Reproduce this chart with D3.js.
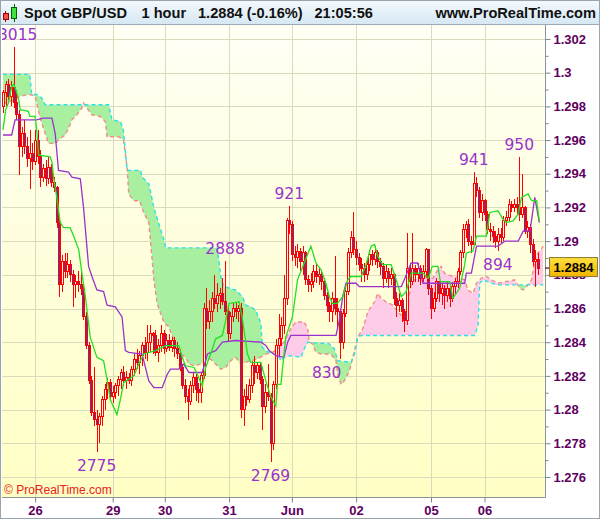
<!DOCTYPE html>
<html><head><meta charset="utf-8">
<script src="https://cdn.jsdelivr.net/npm/d3@7/dist/d3.min.js"></script>
<style>body{margin:0;background:#fff}svg{display:block}</style>
</head><body>
<svg id="c" width="600" height="519"></svg>
<script>
// ---------- DATA ----------
const open = [
1.2980,1.2988,1.2993,1.2986,1.2991,1.2982,1.2975,1.2956,1.2964,1.2956,
1.2949,1.2952,1.2947,1.2960,1.2950,1.2938,1.2943,1.2937,1.2944,1.2935,
1.2932,1.2911,1.2874,1.2888,1.2882,1.2886,1.2880,1.2874,1.2876,1.2874,
1.2872,1.2855,1.2838,1.2817,1.2798,1.2794,1.2791,1.2796,1.2806,1.2812,
1.2816,1.2808,1.2810,1.2814,1.2818,1.2822,1.2817,1.2819,1.2817,1.2824,
1.2830,1.2828,1.2832,1.2838,1.2834,1.2840,1.2845,1.2844,1.2834,1.2838,
1.2845,1.2836,1.2841,1.2837,1.2841,1.2836,1.2833,1.2825,1.2814,1.2808,
1.2805,1.2814,1.2819,1.2812,1.2810,1.2820,1.2860,1.2852,1.2858,1.2866,
1.2863,1.2868,1.2869,1.2864,1.2858,1.2845,1.2855,1.2860,1.2858,1.2860,
1.2800,1.2808,1.2806,1.2814,1.2826,1.2822,1.2826,1.2818,1.2802,1.2810,
1.2808,1.2780,1.2815,1.2838,1.2842,1.2850,1.2866,1.2912,1.2910,1.2892,
1.2890,1.2894,1.2888,1.2893,1.2877,1.2874,1.2876,1.2882,1.2879,1.2880,
1.2876,1.2868,1.2862,1.2858,1.2866,1.2860,1.2858,1.2840,1.2857,1.2870,
1.2893,1.2902,1.2895,1.2890,1.2886,1.2884,1.2880,1.2886,1.2892,1.2889,
1.2893,1.2888,1.2885,1.2878,1.2882,1.2878,1.2880,1.2866,1.2862,1.2865,
1.2858,1.2853,1.2884,1.2876,1.2884,1.2880,1.2884,1.2878,1.2882,1.2895,
1.2872,1.2860,1.2866,1.2876,1.2869,1.2872,1.2868,1.2872,1.2866,1.2873,
1.2876,1.2882,1.2893,1.2907,1.2910,1.2900,1.2898,1.2934,1.2930,1.2917,
1.2924,1.2916,1.2907,1.2906,1.2903,1.2900,1.2904,1.2902,1.2912,1.2914,
1.2922,1.2920,1.2922,1.2920,1.2916,1.2920,1.2906,1.2908,1.2898,1.2888,
1.2889];
const high = [
1.2990,1.2995,1.2996,1.2995,1.3015,1.2990,1.2978,1.2968,1.2972,1.2962,
1.2966,1.2958,1.2966,1.2966,1.2954,1.2946,1.2948,1.2950,1.2946,1.2938,
1.2933,1.2913,1.2892,1.2893,1.2893,1.2889,1.2883,1.2880,1.2882,1.2884,
1.2875,1.2858,1.2840,1.2820,1.2825,1.2800,1.2798,1.2808,1.2815,1.2819,
1.2818,1.2814,1.2816,1.2820,1.2824,1.2826,1.2823,1.2822,1.2826,1.2833,
1.2836,1.2835,1.2840,1.2843,1.2850,1.2850,1.2846,1.2847,1.2842,1.2850,
1.2847,1.2845,1.2845,1.2843,1.2843,1.2840,1.2836,1.2827,1.2818,1.2812,
1.2817,1.2822,1.2821,1.2816,1.2822,1.2863,1.2872,1.2865,1.2870,1.2880,
1.2875,1.2872,1.2878,1.2888,1.2862,1.2858,1.2863,1.2863,1.2862,1.2863,
1.2812,1.2815,1.2818,1.2829,1.2832,1.2828,1.2828,1.2820,1.2815,1.2827,
1.2810,1.2817,1.2842,1.2857,1.2855,1.2880,1.2914,1.2921,1.2912,1.2897,
1.2898,1.2896,1.2897,1.2894,1.2880,1.2881,1.2886,1.2887,1.2884,1.2882,
1.2878,1.2870,1.2864,1.2870,1.2891,1.2866,1.2860,1.2860,1.2874,1.2896,
1.2906,1.2917,1.2900,1.2893,1.2890,1.2887,1.2889,1.2895,1.2895,1.2897,
1.2895,1.2890,1.2887,1.2886,1.2884,1.2884,1.2881,1.2870,1.2869,1.2866,
1.2860,1.2905,1.2887,1.2905,1.2886,1.2887,1.2886,1.2886,1.2896,1.2895,
1.2874,1.2870,1.2878,1.2876,1.2875,1.2874,1.2876,1.2873,1.2876,1.2878,
1.2884,1.2895,1.2910,1.2912,1.2913,1.2903,1.2941,1.2938,1.2932,1.2928,
1.2925,1.2918,1.2911,1.2909,1.2906,1.2908,1.2908,1.2915,1.2918,1.2925,
1.2924,1.2925,1.2926,1.2950,1.2940,1.2921,1.2912,1.2910,1.2901,1.2895,
1.2893];
const low = [
1.2976,1.2980,1.2984,1.2980,1.2979,1.2972,1.2939,1.2950,1.2952,1.2944,
1.2931,1.2942,1.2945,1.2946,1.2932,1.2935,1.2933,1.2934,1.2932,1.2929,
1.2908,1.2867,1.2870,1.2878,1.2878,1.2876,1.2861,1.2866,1.2870,1.2868,
1.2853,1.2836,1.2815,1.2796,1.2790,1.2775,1.2780,1.2790,1.2800,1.2806,
1.2805,1.2804,1.2806,1.2808,1.2812,1.2814,1.2812,1.2815,1.2814,1.2820,
1.2824,1.2821,1.2826,1.2830,1.2829,1.2834,1.2833,1.2832,1.2828,1.2834,
1.2833,1.2834,1.2835,1.2834,1.2831,1.2830,1.2823,1.2812,1.2804,1.2794,
1.2803,1.2810,1.2805,1.2804,1.2804,1.2818,1.2848,1.2848,1.2852,1.2860,
1.2858,1.2860,1.2862,1.2856,1.2840,1.2842,1.2852,1.2854,1.2852,1.2795,
1.2790,1.2802,1.2804,1.2810,1.2815,1.2818,1.2815,1.2788,1.2798,1.2805,
1.2769,1.2776,1.2812,1.2832,1.2838,1.2845,1.2862,1.2904,1.2888,1.2885,
1.2884,1.2882,1.2880,1.2874,1.2870,1.2870,1.2872,1.2875,1.2874,1.2871,
1.2865,1.2858,1.2852,1.2852,1.2856,1.2848,1.2830,1.2836,1.2855,1.2868,
1.2890,1.2892,1.2886,1.2882,1.2876,1.2876,1.2877,1.2882,1.2885,1.2886,
1.2884,1.2880,1.2872,1.2875,1.2872,1.2874,1.2862,1.2855,1.2858,1.2852,
1.2846,1.2850,1.2872,1.2874,1.2876,1.2876,1.2874,1.2876,1.2878,1.2868,
1.2854,1.2858,1.2864,1.2864,1.2862,1.2860,1.2864,1.2861,1.2864,1.2868,
1.2872,1.2880,1.2890,1.2902,1.2897,1.2893,1.2897,1.2926,1.2914,1.2912,
1.2912,1.2904,1.2900,1.2899,1.2896,1.2894,1.2899,1.2900,1.2909,1.2912,
1.2917,1.2917,1.2916,1.2912,1.2914,1.2904,1.2902,1.2893,1.2885,1.2873,
1.2880];
const close = [
1.2988,1.2993,1.2986,1.2991,1.2982,1.2975,1.2956,1.2964,1.2956,1.2949,
1.2952,1.2947,1.2960,1.2950,1.2938,1.2943,1.2937,1.2944,1.2935,1.2932,
1.2911,1.2874,1.2888,1.2882,1.2886,1.2880,1.2874,1.2876,1.2874,1.2872,
1.2855,1.2838,1.2817,1.2798,1.2794,1.2791,1.2796,1.2806,1.2812,1.2816,
1.2808,1.2810,1.2814,1.2818,1.2822,1.2817,1.2819,1.2817,1.2824,1.2830,
1.2828,1.2832,1.2838,1.2834,1.2840,1.2845,1.2844,1.2834,1.2838,1.2845,
1.2836,1.2841,1.2837,1.2841,1.2836,1.2833,1.2825,1.2814,1.2808,1.2805,
1.2814,1.2819,1.2812,1.2810,1.2820,1.2860,1.2852,1.2858,1.2866,1.2863,
1.2868,1.2869,1.2864,1.2858,1.2845,1.2855,1.2860,1.2858,1.2860,1.2800,
1.2808,1.2806,1.2814,1.2826,1.2822,1.2826,1.2818,1.2802,1.2810,1.2808,
1.2780,1.2815,1.2838,1.2842,1.2850,1.2866,1.2912,1.2910,1.2892,1.2890,
1.2894,1.2888,1.2893,1.2877,1.2874,1.2876,1.2882,1.2879,1.2880,1.2876,
1.2868,1.2862,1.2858,1.2866,1.2860,1.2858,1.2840,1.2857,1.2870,1.2893,
1.2902,1.2895,1.2890,1.2886,1.2884,1.2880,1.2886,1.2892,1.2889,1.2893,
1.2888,1.2885,1.2878,1.2882,1.2878,1.2880,1.2866,1.2862,1.2865,1.2858,
1.2853,1.2884,1.2876,1.2884,1.2880,1.2884,1.2878,1.2882,1.2895,1.2872,
1.2860,1.2866,1.2876,1.2869,1.2872,1.2868,1.2872,1.2866,1.2873,1.2876,
1.2882,1.2893,1.2907,1.2910,1.2900,1.2898,1.2934,1.2930,1.2917,1.2924,
1.2916,1.2907,1.2906,1.2903,1.2900,1.2904,1.2902,1.2912,1.2914,1.2922,
1.2920,1.2922,1.2920,1.2916,1.2920,1.2906,1.2908,1.2898,1.2888,1.2889,
1.2884];

// Tenkan-sen (green) [bar, price]
const tenkan = [[0,1.2966],[1,1.2978],[2,1.2982],[3.3,1.2992],[4,1.2993],[5,1.2989],[6,1.2983],[6.4,1.2978],[9.5,1.2977],[10,1.2974],[12,1.2974],[12.6,1.2966],[13.3,1.2951],[17.6,1.2950],[18.3,1.2947],[18.9,1.2938],[20.1,1.2926],[21.4,1.2911],[22.6,1.2908],[25.1,1.2908],[26.4,1.2903],[28.3,1.2895],[29.5,1.2881],[30.8,1.2867],[32.6,1.2843],[35.1,1.2831],[37.6,1.2829],[38.9,1.2818],[40.1,1.2806],[42.6,1.2797],[43.9,1.2806],[45.1,1.2816],[47,1.2818],[48.9,1.2820],[50.75,1.2827],[52.6,1.2833],[57,1.2835],[60.75,1.2838],[65.75,1.2838],[67,1.2831],[68.25,1.2826],[71.4,1.2825],[72.6,1.2821],[74.5,1.2814],[75.75,1.2825],[77.6,1.2833],[79.5,1.2842],[82,1.2844],[83.25,1.2853],[84.5,1.2863],[88.25,1.2864],[89.5,1.2854],[91.4,1.2833],[92.6,1.2828],[96.4,1.2828],[98.25,1.2817],[100,1.2808],[102,1.2802],[102.6,1.2815],[103.9,1.2815],[105.7,1.2843],[108.2,1.2855],[110.1,1.2877],[112.6,1.2887],[115.1,1.2897],[117,1.2887],[118.9,1.2883],[120.7,1.2875],[122,1.2867],[123.2,1.2863],[125,1.2863],[127,1.2867],[128.9,1.2877],[130,1.2879],[133.9,1.2879],[135.7,1.2886],[137.6,1.2897],[138.9,1.2898],[140.1,1.2891],[142,1.2886],[145.1,1.2886],[147,1.2877],[148.9,1.2867],[150.7,1.2870],[152.6,1.2881],[157,1.2881],[159,1.2878],[160.5,1.2885],[162.6,1.2885],[163.5,1.2876],[167,1.2876],[168.2,1.2866],[170.7,1.2872],[172.6,1.2886],[173.2,1.2893],[175.7,1.2894],[177,1.2903],[180.7,1.2903],[182,1.2917],[185,1.2918],[187,1.2913],[188.2,1.2911],[190.7,1.2912],[192.6,1.2916],[193.8,1.2926],[196.3,1.2928],[197.6,1.2924],[199.5,1.2924],[200.5,1.2912]];
// Kijun-sen (purple)
const kijun = [[0,1.2963],[3.25,1.2963],[4.5,1.2972],[12.6,1.2972],[15.1,1.2973],[18.3,1.2973],[19.5,1.2964],[20.75,1.2942],[24.5,1.2941],[25.75,1.2938],[28.9,1.2937],[30.1,1.2920],[32,1.2885],[33.25,1.2879],[35.1,1.2871],[37.6,1.2870],[38.9,1.2862],[42,1.2861],[44.5,1.2855],[45.75,1.2835],[47,1.2834],[52,1.2833],[54.5,1.2817],[56.4,1.2813],[59.5,1.2813],[61.4,1.2821],[62.6,1.2824],[65.75,1.2824],[67.6,1.2827],[69.5,1.2822],[74.5,1.2822],[76.4,1.2833],[79.5,1.2835],[82,1.2840],[87,1.2841],[96.4,1.2840],[98.25,1.2838],[99.5,1.2835],[102,1.2832],[105,1.2831],[106.4,1.2840],[107.6,1.2844],[124.5,1.2844],[125.7,1.2853],[127,1.2867],[128.2,1.2875],[132,1.2875],[133.2,1.2873],[148.9,1.2873],[150,1.2877],[151.5,1.2883],[152.6,1.2887],[155,1.2887],[157,1.2875],[172.6,1.2875],[173.2,1.2881],[175.1,1.2881],[177,1.2897],[185,1.2897],[187.6,1.2900],[192.6,1.2900],[194.5,1.2906],[197,1.2906],[198.8,1.2926],[200.5,1.2911]];
// Cloud span (cyan dashed)
const spanA = [[0,1.2999],[10,1.2999],[10.75,1.2987],[12.6,1.2987],[14.5,1.2985],[15.75,1.2981],[39.5,1.2981],[40.75,1.2972],[43.9,1.2971],[45,1.2966],[46.4,1.2942],[51.4,1.2942],[52,1.2938],[54.5,1.2934],[56.4,1.2920],[58.9,1.2907],[60.1,1.2901],[60.75,1.2896],[80.1,1.2896],[81.4,1.2879],[82.6,1.2873],[87,1.2871],[89.5,1.2867],[90.75,1.2862],[92.6,1.2861],[94.5,1.2859],[96.4,1.2851],[97,1.2837],[98.25,1.2835],[100.75,1.2833],[102.6,1.2833],[103.9,1.2829],[105.1,1.2831],[107.6,1.2832],[111.4,1.2831],[112.6,1.2836],[113.9,1.2840],[122,1.2839],[123.9,1.2836],[125.1,1.2829],[130.1,1.2828],[131.4,1.2833],[132.6,1.2843],[133.9,1.2844],[176.3,1.2844],[177.6,1.2850],[178.2,1.2875],[179.5,1.2877],[184.5,1.2874],[202,1.2874]];
// Cloud span (salmon dashed)
const spanB = [[0,1.2982],[1.4,1.2982],[4.5,1.2984],[6.4,1.2986],[10,1.2987],[12,1.2986],[13.9,1.2973],[15.75,1.2964],[17,1.2958],[19.5,1.2958],[20.75,1.2960],[23.25,1.2963],[24.5,1.2967],[25.75,1.2972],[27.6,1.2975],[29.5,1.2979],[30.1,1.2982],[31.4,1.2979],[33.25,1.2975],[36.4,1.2974],[38.25,1.2971],[38.9,1.2962],[43.25,1.2962],[45,1.2960],[46.4,1.2944],[47,1.2928],[48.9,1.2924],[51,1.2924],[52.6,1.2917],[54.5,1.2911],[55.1,1.2901],[56.4,1.2877],[57.6,1.2863],[60.1,1.2852],[62,1.2849],[63.9,1.2841],[65.1,1.2835],[66.4,1.2833],[68.25,1.2831],[69.5,1.2827],[71.4,1.2826],[73.9,1.2827],[75.75,1.2829],[77.6,1.2830],[79.5,1.2827],[81.4,1.2824],[83.25,1.2825],[85.1,1.2829],[87,1.2831],[88.9,1.2827],[90.75,1.2828],[92.6,1.2829],[95.1,1.2830],[98.25,1.2833],[100.75,1.2834],[102.6,1.2836],[105.1,1.2840],[107.6,1.2848],[109.5,1.2852],[112.6,1.2852],[113.9,1.2848],[114.5,1.2840],[115.7,1.2839],[117,1.2834],[118.9,1.2833],[122.6,1.2833],[124.5,1.2829],[125.1,1.2821],[126.4,1.2815],[127.6,1.2817],[129.5,1.2823],[131.4,1.2835],[132.6,1.2843],[134.5,1.2848],[136.4,1.2858],[138.9,1.2864],[140.1,1.2869],[141.4,1.2866],[143.2,1.2864],[145.7,1.2862],[147.6,1.2858],[148.9,1.2856],[150.7,1.2856],[152.6,1.2875],[154.5,1.2878],[158.2,1.2879],[160.7,1.2878],[162.6,1.2883],[163.8,1.2885],[165,1.2881],[168.2,1.2879],[170.7,1.2878],[172.6,1.2877],[173.8,1.2871],[175.7,1.2869],[177,1.2875],[178.8,1.2878],[180.7,1.2879],[182.6,1.2877],[185,1.2875],[188.2,1.2876],[191.3,1.2877],[193.2,1.2872],[194.5,1.2871],[195.7,1.2873],[197.6,1.2877],[198.8,1.2889],[200,1.2893],[202,1.2897]];

// annotations of highs / lows
const annIdx  = [5.5, 35, 83, 100, 107, 121, 176, 185, 193];
const annVal  = [1.3015, 1.2775, 1.2888, 1.2769, 1.2921, 1.2830, 1.2941, 1.2894, 1.2950];
const annText = ["3015","2775","2888","2769","921","830","941","894","950"];
const annSide = ["above","below","above","below","above","below","above","below","above"];

// axes
const dayIdx    = [12, 41, 60.5, 84.5, 108, 132, 160, 180];
const dayLabels = ["26","29","30","31","Jun","02","05","06"];
const yTicks    = [1.276,1.278,1.28,1.282,1.284,1.286,1.288,1.29,1.292,1.294,1.296,1.298,1.3,1.302];
const yDomain   = [1.27481, 1.30283];
const lastPrice = 1.2884;
const titleParts = ["Spot GBP/USD", "1 hour", "1.2884 (-0.16%)", "21:05:56"];

// ---------- LAYOUT ----------
const PL = 2, PR = 545, PT = 25, PB = 497;
const svg = d3.select("#c");
const defs = svg.append("defs");
const x = d3.scaleLinear().domain([0, 200]).range([3, 538]);
const y = d3.scaleLinear().domain(yDomain).range([PB, PT]);

const gBg = defs.append("linearGradient").attr("id","bg").attr("x1",0).attr("y1",0).attr("x2",0).attr("y2",1);
gBg.append("stop").attr("offset","0%").attr("stop-color","#fffff5");
gBg.append("stop").attr("offset","100%").attr("stop-color","#ffffc4");
const gTitle = defs.append("linearGradient").attr("id","tb").attr("x1",0).attr("y1",0).attr("x2",0).attr("y2",1);
gTitle.append("stop").attr("offset","0%").attr("stop-color","#f4f9fd");
gTitle.append("stop").attr("offset","100%").attr("stop-color","#d6e8f3");
const gBox = defs.append("linearGradient").attr("id","pb").attr("x1",0).attr("y1",0).attr("x2",0).attr("y2",1);
gBox.append("stop").attr("offset","0%").attr("stop-color","#ffe040");
gBox.append("stop").attr("offset","100%").attr("stop-color","#f2b400");

defs.append("clipPath").attr("id","plot").append("rect")
  .attr("x",PL).attr("y",PT).attr("width",PR-PL).attr("height",PB-PT);

svg.append("rect").attr("width",600).attr("height",519).attr("fill","#fff");
svg.append("rect").attr("x",PL).attr("y",PT).attr("width",PR-PL).attr("height",PB-PT).attr("fill","url(#bg)");

// grid
const grid = svg.append("g").attr("shape-rendering","crispEdges").attr("stroke","#dadabd").attr("stroke-width",1);
grid.selectAll("line.h").data(yTicks).join("line")
  .attr("x1",PL).attr("x2",PR).attr("y1",d=>Math.round(y(d))+0.5).attr("y2",d=>Math.round(y(d))+0.5);
grid.selectAll("line.v").data(dayIdx).join("line")
  .attr("y1",PT).attr("y2",PB).attr("x1",d=>Math.round(x(d))+0.5).attr("x2",d=>Math.round(x(d))+0.5);

// cloud
const plot = svg.append("g").attr("clip-path","url(#plot)");
const below = arr => d3.area().x(d=>x(d[0])).y0(PB).y1(d=>y(d[1]))(arr);
const above = arr => d3.area().x(d=>x(d[0])).y0(PT).y1(d=>y(d[1]))(arr);
defs.append("clipPath").attr("id","belowA").append("path").attr("d", below(spanA));
defs.append("clipPath").attr("id","belowB").append("path").attr("d", below(spanB));
plot.append("path").attr("d", above(spanB)).attr("fill","#a8f0a0").attr("clip-path","url(#belowA)");
plot.append("path").attr("d", above(spanA)).attr("fill","#ffcce8").attr("clip-path","url(#belowB)");
const line = d3.line().x(d=>x(d[0])).y(d=>y(d[1]));
plot.append("path").attr("d", line(spanB)).attr("fill","none").attr("stroke","#f08c8c").attr("stroke-width",1.4).attr("stroke-dasharray","4,3");
plot.append("path").attr("d", line(spanA)).attr("fill","none").attr("stroke","#2ee0ea").attr("stroke-width",1.4).attr("stroke-dasharray","4,3");

// candles
const bars = close.map((c,i)=>({i, o:open[i], h:high[i], l:low[i], c}));
const cg = plot.append("g").attr("shape-rendering","crispEdges");
cg.selectAll("line").data(bars).join("line")
  .attr("x1",d=>Math.round(x(d.i))+0.5).attr("x2",d=>Math.round(x(d.i))+0.5)
  .attr("y1",d=>y(d.h)).attr("y2",d=>y(d.l)).attr("stroke","#ff0000").attr("stroke-width",1);
cg.selectAll("rect").data(bars).join("rect")
  .attr("x",d=>Math.round(x(d.i))-0.5).attr("width",2)
  .attr("y",d=>y(Math.max(d.o,d.c)))
  .attr("height",d=>Math.max(1, Math.abs(y(d.o)-y(d.c))))
  .attr("fill",d=>d.c>=d.o ? "#fffbe0" : "#6a2c98")
  .attr("stroke","#ff0000").attr("stroke-width",1);

// tenkan / kijun
plot.append("path").attr("d", line(kijun)).attr("fill","none").attr("stroke","#9932cc").attr("stroke-width",1.3);
plot.append("path").attr("d", line(tenkan)).attr("fill","none").attr("stroke","#22e022").attr("stroke-width",1.3);

// annotations
plot.selectAll("text.ann").data(annText).join("text")
  .attr("x",(d,i)=>x(annIdx[i]))
  .attr("y",(d,i)=> annSide[i]==="above" ? y(annVal[i])-7 : y(annVal[i])+19)
  .attr("text-anchor","middle").attr("font-family","DejaVu Sans").attr("font-size",15.5)
  .attr("fill","#9933cc").text(d=>d);

// copyright
svg.append("text").attr("x",4).attr("y",494).attr("font-family","Liberation Sans, Arial").attr("font-size",12)
  .attr("fill","#e82020").text("\u00a9 ProRealTime.com");

// right axis
const yAxis = d3.axisRight(y).tickValues(yTicks).tickSize(5).tickPadding(3)
  .tickFormat(d=> String(+d.toFixed(3)));
const ya = svg.append("g").attr("transform",`translate(${PR+0.5},0)`).call(yAxis);
ya.select(".domain").remove();
ya.selectAll(".tick line").attr("stroke","#7c8790");
ya.selectAll(".tick text").attr("font-family","Liberation Sans, Arial").attr("font-weight","bold")
  .attr("font-size",13).attr("fill","#600060");
const yMinor = d3.axisRight(y).tickValues(yTicks.slice(0,-1).map(v=>v+0.001)).tickSize(3).tickFormat("");
const ym = svg.append("g").attr("transform",`translate(${PR+0.5},0)`).call(yMinor);
ym.select(".domain").remove();
ym.selectAll(".tick line").attr("stroke","#7c8790");
svg.append("line").attr("x1",PR+0.5).attr("x2",PR+0.5).attr("y1",PT).attr("y2",PB+0.5).attr("stroke","#8a949c");

// bottom axis
const xAxis = d3.axisBottom(x).tickValues(dayIdx).tickSize(5).tickPadding(3).tickFormat((d,i)=>dayLabels[i]);
const xa = svg.append("g").attr("transform",`translate(0,${PB+0.5})`).call(xAxis);
xa.select(".domain").remove();
xa.selectAll(".tick line").attr("stroke","#7c8790");
xa.selectAll(".tick text").attr("font-family","Liberation Sans, Arial").attr("font-weight","bold")
  .attr("font-size",13).attr("fill","#600060");
svg.append("line").attr("x1",PL).attr("x2",PR+0.5).attr("y1",PB+0.5).attr("y2",PB+0.5).attr("stroke","#8a949c");

// last price box (covers the 1.288 tick label, as in the original)
const py = y(lastPrice);
svg.append("line").attr("x1",PR).attr("x2",550).attr("y1",py).attr("y2",py).attr("stroke","#400040").attr("stroke-width",1.2);
svg.append("rect").attr("x",549.5).attr("y",py-10.5).attr("width",48).attr("height",19)
  .attr("fill","url(#pb)").attr("stroke","#8a7a30").attr("stroke-width",1);
svg.append("text").attr("x",573.5).attr("y",py+3.5).attr("text-anchor","middle")
  .attr("font-family","Liberation Sans, Arial").attr("font-weight","bold").attr("font-size",13)
  .attr("fill","#000").text(lastPrice.toFixed(4));

// title bar
svg.append("rect").attr("x",1).attr("y",1).attr("width",598).attr("height",23).attr("fill","url(#tb)");
svg.append("line").attr("x1",1).attr("x2",599).attr("y1",24.5).attr("y2",24.5).attr("stroke","#9aaab8");
const ic = svg.append("g");
ic.append("line").attr("x1",5.5).attr("x2",5.5).attr("y1",11).attr("y2",22).attr("stroke","#a00000");
ic.append("rect").attr("x",3.5).attr("y",13.5).attr("width",5).attr("height",6).attr("fill","#f05050").attr("stroke","#a00000");
ic.append("line").attr("x1",14.5).attr("x2",14.5).attr("y1",4).attr("y2",22).attr("stroke","#006000");
ic.append("rect").attr("x",11.5).attr("y",7.5).attr("width",5).attr("height",11).attr("fill","#40e040").attr("stroke","#006000");
const tx = [24, 141.5, 198, 314.5];
svg.selectAll("text.tt").data(titleParts).join("text").attr("class","tt")
  .attr("x",(d,i)=>tx[i]).attr("y",18).attr("font-family","Liberation Sans, Arial").attr("font-weight","bold")
  .attr("font-size",14.6).attr("fill","#111").text(d=>d);
svg.append("text").attr("x",596).attr("y",18).attr("text-anchor","end").attr("font-family","Liberation Sans, Arial")
  .attr("font-weight","bold").attr("font-size",14.6).attr("fill","#111").text("www.ProRealTime.com");

// outer border
svg.append("rect").attr("x",0.5).attr("y",0.5).attr("width",599).attr("height",518)
  .attr("fill","none").attr("stroke","#9aa4ae");
</script>
</body></html>
